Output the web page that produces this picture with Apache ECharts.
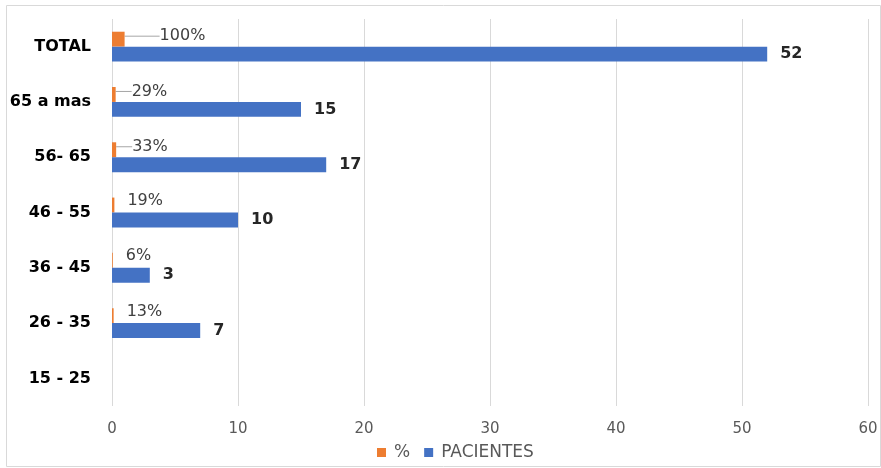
<!DOCTYPE html>
<html><head><meta charset="utf-8">
<script src="https://cdn.jsdelivr.net/npm/echarts@6/dist/echarts.min.js"></script>
<style>html,body{margin:0;padding:0;background:#fff}#c{width:881px;height:468px}</style>
</head><body><div id="c"></div>
<script>
const categories = ['15 - 25','26 - 35','36 - 45','46 - 55','56- 65','65 a mas','TOTAL'];
const pctValues = [null, 0.13, 0.06, 0.19, 0.33, 0.29, 1.00];
const patientValues = [null, 7, 3, 10, 17, 15, 52];
const xTicks = [0, 10, 20, 30, 40, 50, 60];
const seriesNames = ['%', 'PACIENTES'];

const FONT = '"DejaVu Sans", sans-serif';
const chart = echarts.init(document.getElementById('c'), null, {renderer: 'canvas'});
// label offsets for the callout-style percentage labels (style only)
const leaderShift = {6: [22, -3], 5: [3, -3], 4: [3, -3]};
const pctData = pctValues.map((v, i) => ({
  value: v,
  labelLine: {show: !!leaderShift[i]}
}));
chart.setOption({
  animation: false,
  graphic: [{type: 'rect', shape: {x: 6.5, y: 5.5, width: 874, height: 461}, style: {fill: 'none', stroke: '#D9D9D9', lineWidth: 1}, silent: true}],
  grid: {left: 112, right: 13, top: 19, bottom: 62, containLabel: false},
  legend: {
    data: seriesNames, bottom: 2, left: 372, itemWidth: 9, itemHeight: 9, itemGap: 14,
    icon: 'rect', textStyle: {fontFamily: FONT, fontSize: 17, color: '#595959', padding: [0, 0, 0, 3]}
  },
  xAxis: {
    type: 'value', min: xTicks[0], max: xTicks[xTicks.length - 1], interval: 10,
    axisLine: {show: false}, axisTick: {show: false},
    axisLabel: {fontFamily: FONT, fontSize: 15, color: '#595959', margin: 16},
    splitLine: {lineStyle: {color: '#D9D9D9', width: 1}}
  },
  yAxis: {
    type: 'category', data: categories,
    axisLine: {show: false}, axisTick: {show: false},
    axisLabel: {fontFamily: FONT, fontSize: 16, fontWeight: 'bold', color: '#000', margin: 21}
  },
  series: [
    {
      name: seriesNames[0], type: 'bar', data: pctData, barGap: '0%', barCategoryGap: '46%',
      itemStyle: {color: '#ED7D31'},
      label: {show: true, position: 'right', distance: 13, fontFamily: FONT, fontSize: 16, color: '#404040',
        formatter: p => Math.round(p.value * 100) + '%'},
      labelLine: {show: false, lineStyle: {color: '#A6A6A6', width: 1}},
      labelLayout: function (p) {
        const s = leaderShift[p.dataIndex] || [0, -4];
        return {dx: s[0], dy: s[1]};
      }
    },
    {
      name: seriesNames[1], type: 'bar', data: patientValues,
      itemStyle: {color: '#4472C4'},
      label: {show: true, position: 'right', distance: 13, fontFamily: FONT, fontSize: 16, fontWeight: 'bold', color: '#262626'}
    }
  ]
});
</script></body></html>
